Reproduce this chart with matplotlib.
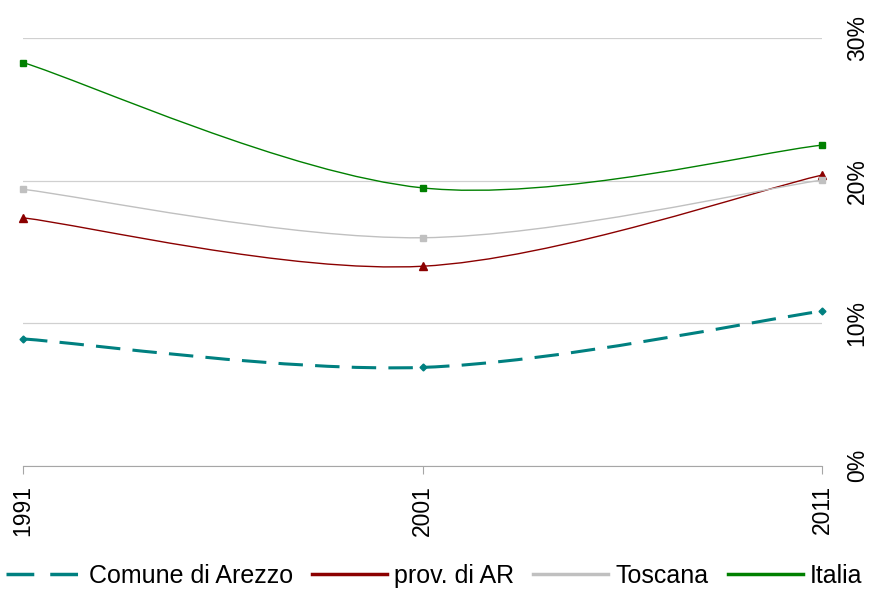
import matplotlib.pyplot as plt
from matplotlib.path import Path
from matplotlib.patches import PathPatch
from matplotlib.lines import Line2D
from matplotlib.ticker import PercentFormatter

plt.rcParams['font.family'] = ['Liberation Sans', 'DejaVu Sans']

years = ["1991", "2001", "2011"]
comune = [8.9, 6.9, 10.85]
prov = [17.4, 14.0, 20.4]
toscana = [19.4, 16.0, 20.05]
italia = [28.3, 19.5, 22.5]


def smooth_path(xs, ys):
    # excel-like smoothed line: bezier segments, catmull-rom control points
    pts = list(zip(xs, ys))
    n = len(pts)
    verts = [pts[0]]
    codes = [Path.MOVETO]
    for i in range(n - 1):
        p0 = pts[max(i - 1, 0)]
        p1 = pts[i]
        p2 = pts[i + 1]
        p3 = pts[min(i + 2, n - 1)]
        c1 = (p1[0] + (p2[0] - p0[0]) / 6, p1[1] + (p2[1] - p0[1]) / 6)
        c2 = (p2[0] - (p3[0] - p1[0]) / 6, p2[1] - (p3[1] - p1[1]) / 6)
        verts += [c1, c2, p2]
        codes += [Path.CURVE4] * 3
    return Path(verts, codes)


fig = plt.figure(figsize=(8.69, 5.90), dpi=100)
ax = fig.add_axes([0.0265, 0.2107, 0.9195, 0.7244])

x = list(range(len(years)))

series = [
    (comune, "#008080", 2.2, (0, (8, 4)), "D", 3.5, "Comune di Arezzo"),
    (prov, "#8B0000", 1.0, "solid", "^", 5.5, "prov. di AR"),
    (toscana, "#C0C0C0", 1.0, "solid", "s", 4.5, "Toscana"),
    (italia, "#008000", 1.0, "solid", "s", 4.5, "Italia"),
]

handles = []
for vals, col, lw, ls, mk, ms, lab in series:
    ax.add_patch(PathPatch(smooth_path(x, vals), facecolor="none",
                           edgecolor=col, lw=lw, linestyle=ls, zorder=3))
    ax.plot(x, vals, linestyle="none", marker=mk, ms=ms, color=col,
            zorder=4, clip_on=False)
    if lab == "Comune di Arezzo":
        handles.append(Line2D([], [], color=col, lw=2.5, linestyle=(0, (8, 4.6))))
    else:
        handles.append(Line2D([], [], color=col, lw=2.5))

ax.set_xlim(0, 2)
ax.set_ylim(0, 30)
ax.set_xticks(x)
ax.set_xticklabels(years, rotation=90, fontsize=16.5)
ax.set_yticks([0, 10, 20, 30])
ax.yaxis.set_major_formatter(PercentFormatter(decimals=0))
ax.yaxis.tick_right()
ax.tick_params(axis="y", length=0, pad=17, labelsize=16.5)
for t in ax.get_yticklabels():
    t.set_rotation(90)
    t.set_va("center")
ax.tick_params(axis="x", length=6, color="#A6A6A6", pad=8)

ax.grid(axis="y", color="#D0D0D0", lw=0.9)
for s in ["top", "left", "right"]:
    ax.spines[s].set_visible(False)
ax.spines["bottom"].set_color("#A6A6A6")
ax.spines["bottom"].set_zorder(5)

fig.legend(handles, [s[6] for s in series], loc="lower center",
           bbox_to_anchor=(0.5, -0.035), ncol=4, frameon=False, fontsize=18,
           handlelength=3.0, handletextpad=0.3, columnspacing=0.75)

fig.savefig("out.png", dpi=100)
